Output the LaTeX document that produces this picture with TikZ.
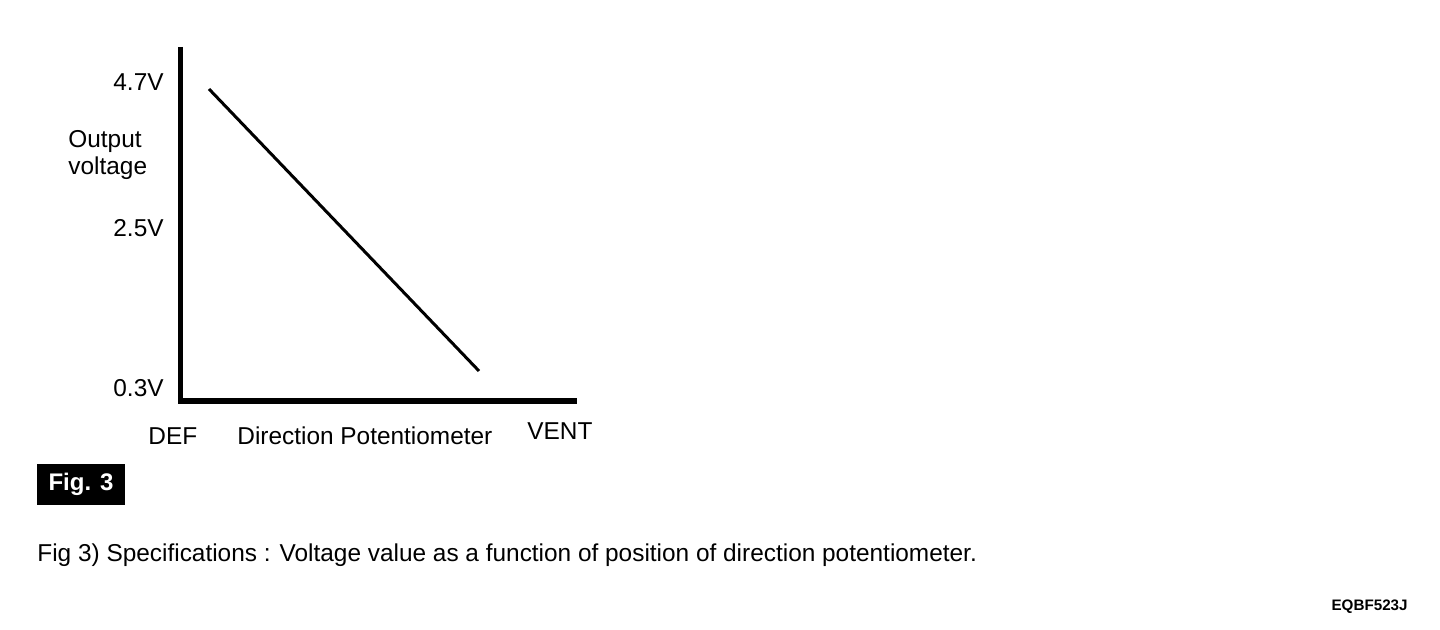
\documentclass[tikz,border=0pt]{standalone}
\usepackage{fontspec}
\setmainfont{Liberation Sans}
\begin{document}
\begin{tikzpicture}[x=0.5bp,y=-0.5bp,
  lab/.style={inner sep=0pt,font=\fontsize{12.2bp}{14bp}\selectfont},
  axisline/.style={line width=2.8bp,line join=miter,line cap=butt},
  curve/.style={line width=1.5bp}]
\useasboundingbox (0,0) rectangle (1440,630);
% axes
\coordinate (top) at (180.5,47);
\coordinate (corner) at (180.5,401);
\coordinate (right) at (577,401);
\draw[axisline] (top) -- (corner) -- (right);
% characteristic line
\coordinate (p1) at (209,89);
\coordinate (p2) at (479,371);
\draw[curve] (p1) -- (p2);
% labels
\node[lab,anchor=base east] (v47) at (164,91) {4.7V};
\node[lab,anchor=base west] (yl1) at (68,148) {Output};
\node[lab,anchor=base west] (yl2) at (68,175) {voltage};
\node[lab,anchor=base east] (v25) at (164,237) {2.5V};
\node[lab,anchor=base east] (v03) at (164,396) {0.3V};
\node[lab,anchor=base west] (def) at (148,444) {DEF};
\node[lab,anchor=base west] (dp) at (237,444) {Direction Potentiometer};
\node[lab,anchor=base west] (vent) at (527,439) {VENT};
% Fig. 3 box
\node[fill=black,text=white,inner sep=0pt,minimum width=44bp,minimum height=20.5bp,
      font=\fontsize{12bp}{14bp}\selectfont\bfseries] (fig) at (81,484.5) {Fig. 3};
% caption
\node[lab,anchor=base west] (cap) at (37,561) {Fig 3) Specifications : Voltage value as a function of position of direction potentiometer.};
\node[inner sep=0pt,anchor=base east,font=\fontsize{7.6bp}{9bp}\selectfont\bfseries] (code) at (1408,610) {EQBF523J};
\end{tikzpicture}
\end{document}
